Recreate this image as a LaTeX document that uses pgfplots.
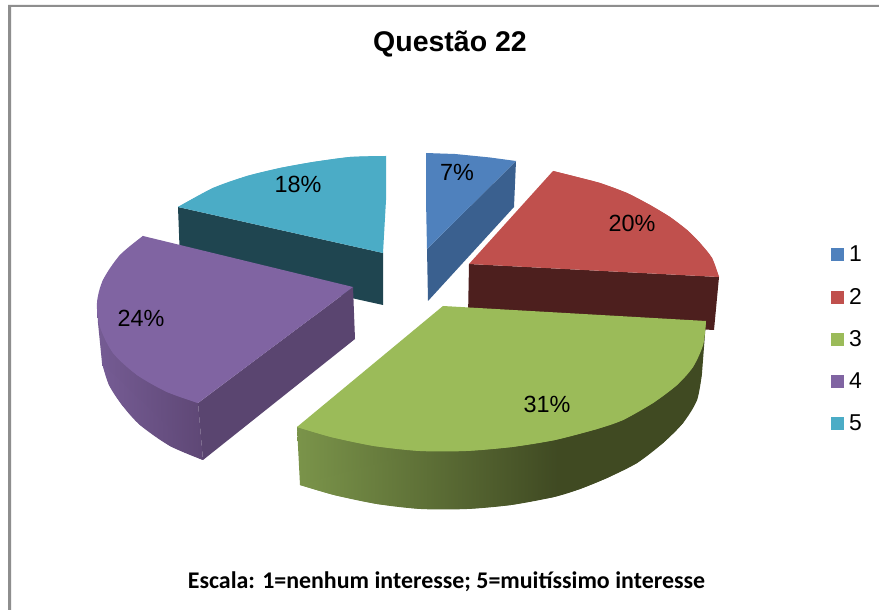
\documentclass[border=0pt]{standalone}
\usepackage{fontspec}
\setmainfont{Liberation Sans}
\newfontfamily\carlito{Carlito}
\usepackage{pgfplots}
\pgfplotsset{compat=1.18}
\definecolor{cblue}{HTML}{4F81BD}
\definecolor{cblueS}{HTML}{3A608F}
\definecolor{cred}{HTML}{C0504D}
\definecolor{credS}{HTML}{4D1F1E}
\definecolor{cgreen}{HTML}{9BBB59}
\definecolor{cpurple}{HTML}{8064A2}
\definecolor{cpurpleS}{HTML}{5A4570}
\definecolor{ccyan}{HTML}{4BACC6}
\definecolor{ccyanS}{HTML}{1F4550}
\definecolor{frameg}{HTML}{8E8E8E}
\pgfdeclarehorizontalshading{greenside}{100bp}{rgb(0bp)=(0.48,0.58,0.29); rgb(25bp)=(0.48,0.58,0.29); rgb(57bp)=(0.25,0.29,0.135); rgb(100bp)=(0.25,0.29,0.135)}
\pgfdeclarehorizontalshading{purpleside}{100bp}{rgb(0bp)=(0.46,0.36,0.58); rgb(25bp)=(0.46,0.36,0.58); rgb(75bp)=(0.37,0.28,0.46); rgb(100bp)=(0.37,0.28,0.46)}
\begin{document}
\begin{tikzpicture}
\begin{axis}[
  scale only axis, width=879bp, height=610bp,
  xmin=0, xmax=879, ymin=0, ymax=610, y dir=reverse,
  hide axis, clip=true,
  legend cell align=left,
  legend image code/.code={\fill[#1,draw=none] (0bp,-6.5bp) rectangle (13bp,6.5bp);},
  legend style={at={(axis cs:831,244)}, anchor=north west, draw=none, fill=none,
    font=\fontsize{23}{24}\selectfont, row sep=20.8bp, inner sep=0pt,
    nodes={inner sep=2bp}},
]
% background and frame
\addplot[fill=white, draw=none, forget plot] coordinates {(0,0) (879,0) (879,610) (0,610)} -- cycle;
\addplot[fill=frameg, draw=none, forget plot] coordinates {(8,5) (879,5) (879,7) (11,7) (11,610) (8,610)} -- cycle;
\addlegendimage{fill=cblue,draw=none}\addlegendentry{\hspace{3bp}1}
\addlegendimage{fill=cred,draw=none}\addlegendentry{\hspace{3bp}2}
\addlegendimage{fill=cgreen,draw=none}\addlegendentry{\hspace{3bp}3}
\addlegendimage{fill=cpurple,draw=none}\addlegendentry{\hspace{3bp}4}
\addlegendimage{fill=ccyan,draw=none}\addlegendentry{\hspace{3bp}5}
% slice 5
\addplot[fill=ccyanS, draw=none, forget plot] coordinates {(178,207) (383,253) (383,305) (180,260)} -- cycle;
\addplot[fill=ccyan, draw=none, forget plot] coordinates {(386,156) (350,157) (313,162) (280,168) (247,176) (213,188) (178,207) (383,253) (386,200)} -- cycle;
\addplot[fill=ccyan, draw=none, smooth, forget plot] coordinates {(386,156) (350,157) (313,162) (280,168) (247,176) (213,188) (178,207)} -- cycle;
% slice 1
\addplot[fill=cblueS, draw=none, forget plot] coordinates {(516,161) (514,207) (428,301) (427,249)} -- cycle;
\addplot[fill=cblue, draw=none, forget plot] coordinates {(426,153) (440,153.5) (455,154) (470,155.5) (490,157.5) (516,161) (427,249) (426,200)} -- cycle;
% slice 2
\addplot[fill=credS, draw=none, forget plot] coordinates {(469,264) (719,277) (714,330) (468,317)} -- cycle;
\addplot[fill=cred, draw=none, forget plot] coordinates {(553,171) (573,176) (600,183) (627,193) (650,205) (670,217) (687,230) (700,243) (712,258) (719,277) (469,264)} -- cycle;
\addplot[fill=cred, draw=none, smooth, forget plot] coordinates {(553,171) (573,176) (600,183) (627,193) (650,205) (670,217) (687,230) (700,243) (712,258) (719,277)} -- cycle;
% slice 4
\addplot[shade, shading=purpleside, draw=none, forget plot] coordinates {(97,303) (198,403) (203,460) (170,446) (140,425) (122,405) (109,385) (102,363) (98,323)} -- cycle;
\addplot[shade, shading=purpleside, draw=none, smooth, forget plot] coordinates {(102,363) (109,385) (122,405) (140,425) (170,446) (203,460)} -- cycle;
\addplot[fill=cpurpleS, draw=none, forget plot] coordinates {(353,287) (355,339) (203,460) (198,403)} -- cycle;
\addplot[fill=cpurple, draw=none, forget plot] coordinates {(143,236) (353,287) (198,403) (167,392) (137,375) (113,353) (100,327) (97,303) (103,280) (120,255)} -- cycle;
\addplot[fill=cpurple, draw=none, smooth, forget plot] coordinates {(143,236) (120,255) (103,280) (97,303) (100,327) (113,353) (137,375) (167,392) (198,403)} -- cycle;
% slice 3
\addplot[shade, shading=greenside, draw=none, forget plot] coordinates {(706,321) (702,373) (697,400) (683,423) (663,443) (637,463) (607,478) (580,489) (554,497) (511,505) (467,509) (421,509) (377,504) (334,495) (300,485) (297,427) (443,400)} -- cycle;
\addplot[shade, shading=greenside, draw=none, smooth, forget plot] coordinates {(702,373) (697,400) (683,423) (663,443) (637,463) (607,478) (580,489) (554,497) (511,505) (467,509) (421,509) (377,504) (334,495) (300,485)} -- cycle;
\addplot[fill=cgreen, draw=none, forget plot] coordinates {(443,306) (706,321) (703,345) (693,367) (677,385) (653,403) (623,420) (597,429) (555,440) (512,447) (466,451) (420,451) (374,446) (331,437) (297,427)} -- cycle;
\addplot[fill=cgreen, draw=none, smooth, forget plot] coordinates {(706,321) (703,345) (693,367) (677,385) (653,403) (623,420) (597,429) (555,440) (512,447) (466,451) (420,451) (374,446) (331,437) (297,427)} -- cycle;
% labels
\node[font=\fontsize{23.5}{24}\selectfont] at (axis cs:457,172) {7\%};
\node[font=\fontsize{23.5}{24}\selectfont] at (axis cs:632,223) {20\%};
\node[font=\fontsize{23.5}{24}\selectfont] at (axis cs:547,404) {31\%};
\node[font=\fontsize{23.5}{24}\selectfont] at (axis cs:141,318) {24\%};
\node[font=\fontsize{23.5}{24}\selectfont] at (axis cs:298,184) {18\%};
\node[font=\fontsize{28.6}{30}\selectfont\bfseries] at (axis cs:450,44) {Questão 22};
\node[font=\fontsize{24}{26}\selectfont\bfseries\carlito] at (axis cs:446.5,582) {Escala: 1=nenhum interesse; 5=muitíssimo interesse};
\end{axis}
\end{tikzpicture}
\end{document}
